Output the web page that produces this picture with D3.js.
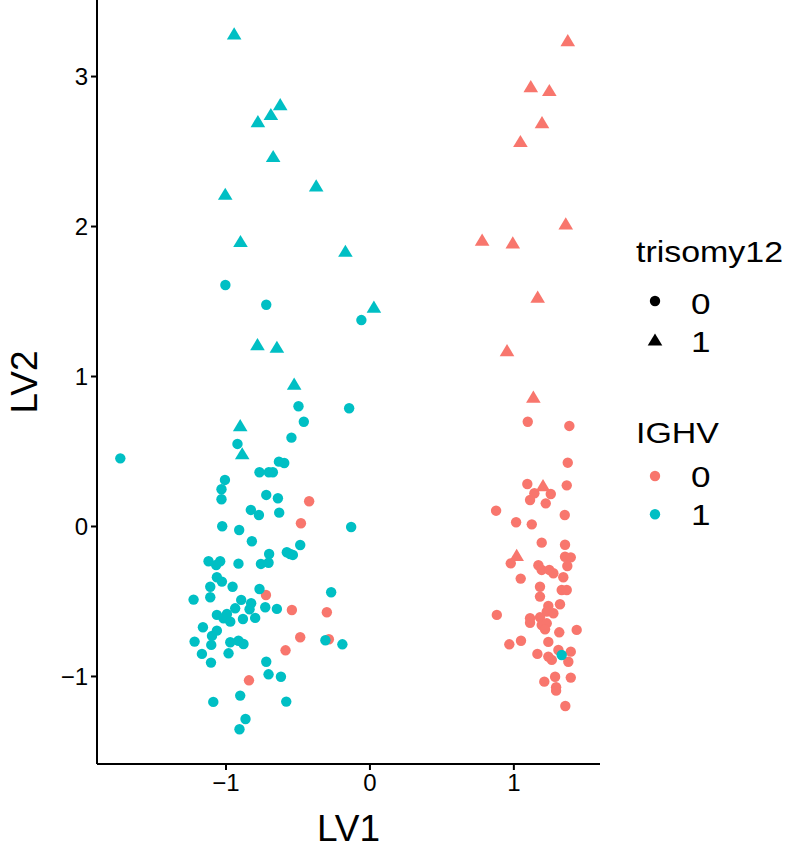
<!DOCTYPE html>
<html><head><meta charset="utf-8">
<script src="https://cdn.jsdelivr.net/npm/d3@7/dist/d3.min.js"></script>
<style>body{margin:0;background:#fff}svg{display:block}text{font-family:"Liberation Sans",Arial,Helvetica,sans-serif}</style>
</head><body>
<svg id="c" width="787" height="848"></svg>
<script>
// ---- data ----
// IGHV = 1, trisomy12 = 1 (cyan triangles)
const cyanTriX = [-0.940,-0.620,-0.685,-0.775,-0.669,-0.370,-1.002,-0.896,-0.167,0.031,-0.778,-0.643,-0.523,-0.898,-0.884];
const cyanTriY = [3.285,2.813,2.747,2.700,2.467,2.271,2.215,1.900,1.835,1.462,1.213,1.195,0.949,0.673,0.485];
// IGHV = 1, trisomy12 = 0 (cyan circles)
const cyanCirX = [-1.001,-0.717,-0.056,-0.493,-0.141,-0.456,-0.542,-0.917,-1.731,-0.629,-0.592,-1.004,-0.764,-0.699,-0.671,-1.028,-1.028,-0.717,-0.636,-0.824,-0.768,-0.627,-1.023,-0.905,-0.127,-0.817,-0.481,-0.697,-0.574,-0.551,-0.532,-1.118,-1.037,-1.065,-0.910,-0.754,-0.701,-1.060,-1.025,-1.106,-0.951,-0.764,-0.266,-1.222,-1.106,-0.891,-0.822,-0.933,-0.833,-0.724,-0.643,-1.060,-0.990,-1.014,-0.967,-0.879,-0.794,-1.157,-1.060,-1.094,-1.215,-1.099,-0.967,-0.910,-0.875,-0.306,-0.188,-1.164,-0.979,-1.101,-0.717,-0.701,-0.615,-0.898,-1.085,-0.578,-0.861,-0.903,1.336];
const cyanCirY = [1.607,1.475,1.373,0.798,0.785,0.695,0.589,0.547,0.451,0.429,0.420,0.307,0.358,0.358,0.358,0.245,0.178,0.207,0.185,0.107,0.073,0.089,-0.002,-0.027,-0.007,-0.102,-0.127,-0.187,-0.175,-0.187,-0.193,-0.235,-0.235,-0.260,-0.251,-0.253,-0.245,-0.342,-0.371,-0.405,-0.405,-0.420,-0.442,-0.491,-0.475,-0.493,-0.515,-0.549,-0.555,-0.542,-0.553,-0.593,-0.587,-0.615,-0.638,-0.620,-0.613,-0.675,-0.698,-0.733,-0.771,-0.793,-0.775,-0.765,-0.787,-0.762,-0.789,-0.853,-0.849,-0.911,-0.905,-0.989,-1.005,-1.131,-1.173,-1.171,-1.287,-1.355,-0.860];
// IGHV = 0, trisomy12 = 1 (red triangles)
const redTriX = [1.378,1.121,1.250,1.199,1.049,1.364,0.783,0.996,1.169,0.956,1.139,1.206,1.023];
const redTriY = [3.240,2.933,2.907,2.693,2.567,2.018,1.909,1.891,1.529,1.173,0.862,0.273,-0.193];
// IGHV = 0, trisomy12 = 0 (red circles)
const redCirX = [-0.419,-0.476,-0.719,-0.539,-0.296,-0.481,-0.282,-0.583,-0.837,
  1.100,1.389,1.378,1.097,1.371,1.146,1.260,1.116,1.225,0.880,1.357,1.019,1.128,1.197,1.359,1.359,1.399,0.982,1.174,1.375,1.197,1.250,1.278,1.347,1.051,1.185,1.336,1.371,1.185,1.324,1.243,1.232,1.278,0.885,1.116,1.185,1.116,1.197,1.232,1.220,1.319,1.440,0.972,1.053,1.243,1.167,1.243,1.267,1.313,1.399,1.382,1.290,1.215,1.399,1.297,1.297,1.361];
const redCirY = [0.165,0.018,-0.460,-0.560,-0.575,-0.742,-0.755,-0.829,-1.029,
  0.695,0.667,0.422,0.280,0.271,0.218,0.213,0.173,0.151,0.102,0.073,0.025,0.011,-0.111,-0.125,-0.205,-0.209,-0.249,-0.262,-0.267,-0.293,-0.293,-0.315,-0.342,-0.351,-0.405,-0.427,-0.427,-0.471,-0.522,-0.533,-0.571,-0.582,-0.593,-0.615,-0.609,-0.645,-0.660,-0.649,-0.689,-0.709,-0.693,-0.789,-0.765,-0.773,-0.853,-0.871,-0.893,-0.827,-0.838,-0.905,-1.005,-1.038,-1.011,-1.075,-1.098,-1.200];

const xTicks = [-1, 0, 1];
const yTicks = [-1, 0, 1, 2, 3];
const ighvLevels = ["0", "1"];
const triLevels = ["0", "1"];
const ighvColors = ["#F8766D", "#00BFC4"];

// ---- layout ----
const svg = d3.select("#c");
const panel = {left: 97, right: 600, top: 0, bottom: 764};
const x = d3.scaleLinear().domain([-1.893, 1.602]).range([panel.left, panel.right]);
const y = d3.scaleLinear().domain([-1.587, 3.507]).range([panel.bottom, panel.top]);
const color = d3.scaleOrdinal().domain(ighvLevels).range(ighvColors);

function triPath(cx, cy) {
  const w = 7.3, h = 6.1;
  return `M${cx},${cy - h}L${cx + w},${cy + h}L${cx - w},${cy + h}Z`;
}

const pts = [];
redCirX.forEach((v, i) => pts.push({x: v, y: redCirY[i], ighv: "0", tri: "0"}));
redTriX.forEach((v, i) => pts.push({x: v, y: redTriY[i], ighv: "0", tri: "1"}));
cyanCirX.forEach((v, i) => pts.push({x: v, y: cyanCirY[i], ighv: "1", tri: "0"}));
cyanTriX.forEach((v, i) => pts.push({x: v, y: cyanTriY[i], ighv: "1", tri: "1"}));

const gPts = svg.append("g");
pts.forEach(p => {
  if (p.tri === "0") {
    gPts.append("circle").attr("cx", x(p.x)).attr("cy", y(p.y)).attr("r", 5.2).attr("fill", color(p.ighv));
  } else {
    gPts.append("path").attr("d", triPath(x(p.x), y(p.y))).attr("fill", color(p.ighv));
  }
});

// axes
const xAxis = svg.append("g").attr("transform", `translate(0,${panel.bottom})`)
  .call(d3.axisBottom(x).tickValues(xTicks).tickSize(6).tickPadding(6).tickFormat(d => d < 0 ? "\u2212" + Math.abs(d) : d));
const yAxis = svg.append("g").attr("transform", `translate(${panel.left},0)`)
  .call(d3.axisLeft(y).tickValues(yTicks).tickSize(6).tickPadding(5).tickFormat(d => d < 0 ? "\u2212" + Math.abs(d) : d));
[xAxis, yAxis].forEach(a => {
  a.select(".domain").attr("stroke", "#000").attr("stroke-width", 2);
  a.selectAll(".tick line").attr("stroke", "#000").attr("stroke-width", 2);
  a.selectAll(".tick text").attr("fill", "#000").style("font-size", "24px").attr("font-family", null);
});
xAxis.select(".domain").attr("d", `M${panel.left},0H${panel.right}`);
yAxis.select(".domain").attr("d", `M0,${panel.top}V${panel.bottom}`);
xAxis.selectAll(".tick text").attr("dy", "0.71em").attr("y", 10);
yAxis.selectAll(".tick text").attr("x", -9).attr("dy", "0.35em");

svg.append("text").attr("x", (panel.left + panel.right) / 2).attr("y", 841).attr("text-anchor", "middle")
  .style("font-size", "37px").text("LV1");
svg.append("text").attr("transform", `translate(37,${(panel.top + panel.bottom) / 2}) rotate(-90)`).attr("text-anchor", "middle")
  .style("font-size", "37px").text("LV2");

// legends
const sx = 1.17;
function ltext(xp, yp, size, t) {
  svg.append("text").attr("transform", `translate(${xp},${yp}) scale(${sx},1)`).style("font-size", size + "px").text(t);
}
ltext(636, 261.7, 29, "trisomy12");
const triKeyY = [301, 339.5];
triLevels.forEach((lv, i) => {
  if (lv === "0") svg.append("circle").attr("cx", 655).attr("cy", triKeyY[i]).attr("r", 5.2).attr("fill", "#000");
  else svg.append("path").attr("d", triPath(655, triKeyY[i])).attr("fill", "#000");
  ltext(691, triKeyY[i] + 12.5, 30, lv);
});
ltext(636, 443.3, 29, "IGHV");
const ighvKeyY = [476, 514.3];
ighvLevels.forEach((lv, i) => {
  svg.append("circle").attr("cx", 655).attr("cy", ighvKeyY[i]).attr("r", 5.2).attr("fill", color(lv));
  ltext(691, ighvKeyY[i] + 11, 30, lv);
});
</script>
</body></html>
